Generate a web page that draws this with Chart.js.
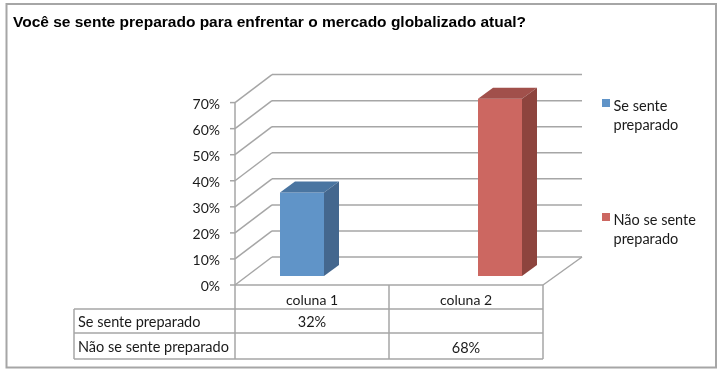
<!DOCTYPE html>
<html>
<head>
<meta charset="utf-8">
<style>
  html, body { margin: 0; padding: 0; background: #fff; }
  #wrap { width: 725px; height: 374px; position: relative; }
</style>
<script src="https://cdn.jsdelivr.net/npm/chart.js@4"></script>
</head>
<body>
<div id="wrap"><canvas id="chart" width="725" height="374"></canvas></div>
<script>
const titleText = 'Você se sente preparado para enfrentar o mercado globalizado atual?';
const categories = ['coluna 1', 'coluna 2'];
const seSente = [32, null];
const naoSeSente = [null, 68];
const seSenteName = 'Se sente preparado';
const naoSeSenteName = 'Não se sente preparado';
const seSenteLegend = ['Se sente', 'preparado'];
const naoSeSenteLegend = ['Não se sente', 'preparado'];
const yMax = 70;
const yStep = 10;

const gridColor = '#a6a6a6';
const textColor = '#1a1a1a';
const labelFont = '14.5px Lato, Carlito, sans-serif';

// bar sits in the middle of the floor, so front and back planes are offsets from the scale
const front = { x: -12, y: 9 };
const back = { x: 25, y: -19 };
const backRightExtra = 2;
const barDepth = { x: 15, y: -11 };

const line = (ctx, x1, y1, x2, y2) => {
  ctx.beginPath();
  ctx.moveTo(x1, y1);
  ctx.lineTo(x2, y2);
  ctx.stroke();
};

const poly = (ctx, pts, color) => {
  ctx.fillStyle = color;
  ctx.beginPath();
  pts.forEach((p, i) => (i ? ctx.lineTo(p[0], p[1]) : ctx.moveTo(p[0], p[1])));
  ctx.closePath();
  ctx.fill();
};

const wallsPlugin = {
  id: 'walls',
  beforeDatasetsDraw(chart) {
    const { ctx, chartArea, scales } = chart;
    const left = chartArea.left + front.x;
    const right = chartArea.right + front.x;
    const backLeft = chartArea.left + back.x;
    const backRight = chartArea.right + back.x + backRightExtra;
    ctx.save();
    ctx.strokeStyle = gridColor;
    ctx.lineWidth = 1.5;
    for (let v = 0; v <= yMax; v += yStep) {
      const y = scales.y.getPixelForValue(v);
      line(ctx, backLeft, y + back.y, backRight, y + back.y);
      line(ctx, left, y + front.y, backLeft, y + back.y);
      line(ctx, left - 5, y + front.y, left, y + front.y);
    }
    const y0 = scales.y.getPixelForValue(0);
    line(ctx, left, scales.y.getPixelForValue(yMax) + front.y, left, y0 + front.y);
    line(ctx, left, y0 + front.y, right, y0 + front.y);
    line(ctx, right, y0 + front.y, backRight, y0 + back.y);
    ctx.restore();
  },
  afterDatasetsDraw(chart) {
    const { ctx } = chart;
    chart.data.datasets.forEach((ds, i) => {
      chart.getDatasetMeta(i).data.forEach((bar, n) => {
        if (ds.data[n] == null) return;
        const l = bar.x - bar.width / 2;
        const r = bar.x + bar.width / 2;
        poly(ctx, [[l, bar.y], [r, bar.y], [r + barDepth.x, bar.y + barDepth.y], [l + barDepth.x, bar.y + barDepth.y]], ds.topColor);
        poly(ctx, [[r, bar.y], [r + barDepth.x, bar.y + barDepth.y], [r + barDepth.x, bar.base + barDepth.y], [r, bar.base]], ds.sideColor);
      });
    });
  },
};

const tablePlugin = {
  id: 'dataTable',
  afterDraw(chart) {
    const { ctx, chartArea, scales } = chart;
    const left = chartArea.left + front.x;
    const right = chartArea.right + front.x;
    const mid = (left + right) / 2;
    const top = scales.y.getPixelForValue(0) + front.y;
    const rowY = [top + 24, top + 48, top + 74];
    const tableLeft = 74;
    ctx.save();

    // outer frame
    ctx.strokeStyle = gridColor;
    ctx.lineWidth = 2;
    ctx.strokeRect(6.5, 4, 709.5, 363.5);

    ctx.lineWidth = 1.5;
    rowY.forEach((y) => line(ctx, tableLeft, y, right, y));
    [left, mid, right].forEach((x) => line(ctx, x, top, x, rowY[2]));
    line(ctx, tableLeft, rowY[0], tableLeft, rowY[2]);

    ctx.font = labelFont;
    ctx.fillStyle = textColor;
    ctx.textBaseline = 'middle';
    const colCenter = [(left + mid) / 2, (mid + right) / 2];
    chart.data.datasets.forEach((ds, r) => {
      const y = (rowY[r] + rowY[r + 1]) / 2 + 1.5;
      ctx.textAlign = 'left';
      ctx.fillText(ds.label, tableLeft + 4, y);
      ctx.textAlign = 'center';
      ds.data.forEach((v, c) => {
        if (v != null) ctx.fillText(v + '%', colCenter[c], y + (r ? 1 : 0));
      });
    });

    // legend
    ctx.textAlign = 'left';
    const legendY = [106, 220];
    chart.data.datasets.forEach((ds, i) => {
      ctx.fillStyle = ds.backgroundColor;
      ctx.fillRect(602, legendY[i] - 7, 8, 8);
      ctx.fillStyle = textColor;
      ds.legendLines.forEach((t, n) => ctx.fillText(t, 613.5, legendY[i] + n * 19));
    });
    ctx.restore();
  },
};

new Chart(document.getElementById('chart'), {
  type: 'bar',
  data: {
    labels: categories,
    datasets: [
      { label: seSenteName, data: seSente, backgroundColor: '#6094c8', sideColor: '#44678e', topColor: '#4a75a1', legendLines: seSenteLegend },
      { label: naoSeSenteName, data: naoSeSente, backgroundColor: '#cc6761', sideColor: '#8d443e', topColor: '#a1504b', legendLines: naoSeSenteLegend },
    ],
  },
  options: {
    responsive: false,
    animation: false,
    layout: { padding: { left: 13, right: 170, top: 0, bottom: 0 } },
    categoryPercentage: 88 / 154,
    barPercentage: 1,
    plugins: {
      legend: { display: false },
      tooltip: { enabled: false },
      title: {
        display: true,
        text: titleText,
        align: 'start',
        color: '#000',
        font: { family: '"Liberation Sans", Arial, sans-serif', size: 15.5, weight: 'bold', lineHeight: 1.2 },
        padding: { top: 13, bottom: 62 },
      },
    },
    scales: {
      x: {
        grid: { display: false, drawTicks: false },
        border: { display: false },
        afterFit: (s) => { s.height = 98; },
        ticks: { color: textColor, font: { family: 'Lato, Carlito, sans-serif', size: 14 }, padding: 16, labelOffset: front.x, maxRotation: 0 },
      },
      y: {
        min: 0,
        max: yMax,
        grid: { display: false, drawTicks: false },
        border: { display: false },
        afterFit: (s) => { s.width = 234; },
        ticks: {
          stepSize: yStep,
          color: textColor,
          font: { family: 'Lato, Carlito, sans-serif', size: 14 },
          padding: 27,
          labelOffset: front.y + 1.5,
          callback: (v) => v + '%',
        },
      },
    },
  },
  plugins: [wallsPlugin, tablePlugin],
});
</script>
</body>
</html>
